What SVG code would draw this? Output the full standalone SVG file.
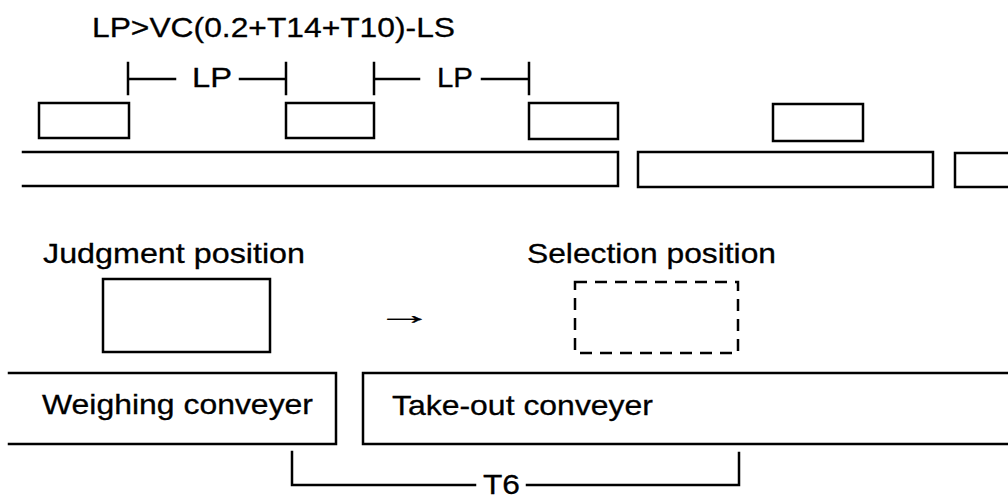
<svg xmlns="http://www.w3.org/2000/svg" width="1008" height="498" viewBox="0 0 1008 498">
  <style>
    .t { font-family: "Liberation Sans", Arial, Helvetica, sans-serif; font-size: 28px; fill: #000; stroke: #000; stroke-width: 0.3; }
    .ln { fill: none; stroke: #000; stroke-width: 2.5; stroke-linecap: square; }
    .box { fill: #fff; stroke: #000; stroke-width: 2.5; }
    .dash { fill: none; stroke: #000; stroke-width: 2.5; stroke-dasharray: 12 8; }
  </style>
  <rect width="1008" height="498" fill="#fff"/>

  <g id="title">
    <text class="t" x="92" y="37" textLength="363" lengthAdjust="spacingAndGlyphs">LP&gt;VC(0.2+T14+T10)-LS</text>
  </g>

  <g id="connectors">
    <!-- LP bracket 1 -->
    <path class="ln" d="M128,63 V94 M128,79 H175 M240,79 H286 M286,63 V94"/>
    <!-- LP bracket 2 -->
    <path class="ln" d="M374,63 V94 M374,79 H419 M482,79 H529 M529,63 V94"/>
    <!-- T6 bracket -->
    <path class="ln" d="M292,452 V485 H475 M527,485 H739 V453"/>
  </g>

  <g id="lp-label-1"><text class="t" x="192" y="87" textLength="40" lengthAdjust="spacingAndGlyphs">LP</text></g>
  <g id="lp-label-2"><text class="t" x="437" y="87" textLength="36" lengthAdjust="spacingAndGlyphs">LP</text></g>

  <g id="item-1"><rect class="box" x="39" y="103" width="90" height="35"/></g>
  <g id="item-2"><rect class="box" x="286" y="103" width="88" height="35"/></g>
  <g id="item-3"><rect class="box" x="529" y="103" width="89" height="36"/></g>
  <g id="item-4"><rect class="box" x="773" y="104" width="90" height="37"/></g>

  <g id="belt-1"><path class="ln" d="M23,152 H618 V186 H23"/></g>
  <g id="belt-2"><rect class="box" x="638" y="152" width="295" height="35"/></g>
  <g id="belt-3"><path class="ln" d="M1010,153 H955 V187 H1010"/></g>

  <g id="judgment-position">
    <text class="t" x="43" y="263" textLength="262" lengthAdjust="spacingAndGlyphs">Judgment position</text>
    <rect class="box" x="103" y="279" width="167" height="73"/>
  </g>

  <g id="arrow">
    <text class="t" transform="translate(376,324) scale(2.06,1)" x="0" y="0">→</text>
  </g>

  <g id="selection-position">
    <text class="t" x="527" y="263" textLength="249" lengthAdjust="spacingAndGlyphs">Selection position</text>
    <rect class="dash" x="575" y="282" width="163" height="71"/>
  </g>

  <g id="weighing-conveyer">
    <path class="ln" d="M9,373 H336 V444 H9"/>
    <text class="t" x="42" y="414" textLength="271" lengthAdjust="spacingAndGlyphs">Weighing conveyer</text>
  </g>

  <g id="take-out-conveyer">
    <path class="ln" d="M1010,373 H363 V444 H1010"/>
    <text class="t" x="392" y="415" textLength="261" lengthAdjust="spacingAndGlyphs">Take-out conveyer</text>
  </g>

  <g id="t6-label">
    <text class="t" x="483" y="494" textLength="37" lengthAdjust="spacingAndGlyphs">T6</text>
  </g>
</svg>
